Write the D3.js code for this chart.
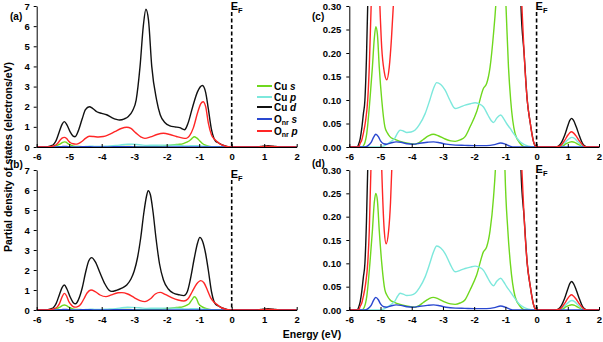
<!DOCTYPE html>
<html>
<head>
<meta charset="utf-8">
<script src="https://d3js.org/d3.v7.min.js"></script>
<style>
  body { margin: 0; background: #fff; }
  svg text { font-family: "Liberation Sans Narrow", "Arial Narrow", "Liberation Sans", Arial, sans-serif; font-weight: bold; }
</style>
</head>
<body>
<svg id="chart"></svg>
<script>
var W = 603, H = 342;

// energy axis ticks (eV)
var xTicks = [-6, -5, -4, -3, -2, -1, 0, 1, 2];
var yTicksFull = [0, 1, 2, 3, 4, 5, 6, 7];
var yTicksZoom = [0, 0.05, 0.10, 0.15, 0.20, 0.25, 0.30];

var seriesNames = ["Cu s", "Cu p", "Cu d", "Onr s", "Onr p"];
var seriesColors = ["#6fd81e", "#7de8dc", "#111111", "#2a48d0", "#ff2626"];

// [energy, PDOS]

// Cu p (same in both structures)
var cuP = [[-6,0],[-5.0,0],[-4.9,0.002],[-4.75,0.008],[-4.62,0.014],[-4.54,0.019],[-4.45,0.03],[-4.37,0.036],
  [-4.27,0.034],[-4.16,0.031],[-4.02,0.032],[-3.89,0.036],[-3.75,0.048],[-3.57,0.071],[-3.42,0.1],[-3.3,0.125],
  [-3.2,0.137],[-3.07,0.133],[-2.93,0.121],[-2.78,0.1],[-2.61,0.082],[-2.45,0.085],[-2.29,0.089],[-2.12,0.092],
  [-1.97,0.094],[-1.85,0.092],[-1.7,0.085],[-1.55,0.067],[-1.45,0.056],[-1.38,0.052],[-1.27,0.062],[-1.15,0.068],
  [-1.05,0.06],[-0.96,0.05],[-0.85,0.04],[-0.74,0.029],[-0.63,0.019],[-0.53,0.011],[-0.42,0.006],[-0.31,0.003],
  [-0.2,0.001],[-0.1,0],[0.6,0],[0.75,0.002],[0.85,0.006],[0.95,0.012],[1.05,0.018],[1.13,0.0205],[1.22,0.018],
  [1.32,0.011],[1.42,0.005],[1.52,0.001],[1.6,0],[2,0]];

// O_nr s (same in both structures)
var onrS = [[-6,0],[-5.5,0],[-5.4,0.003],[-5.3,0.01],[-5.22,0.021],[-5.15,0.027],[-5.07,0.022],[-5.0,0.013],
  [-4.9,0.007],[-4.8,0.006],[-4.65,0.009],[-4.5,0.011],[-4.35,0.01],[-4.15,0.007],[-3.95,0.006],[-3.75,0.008],
  [-3.5,0.01],[-3.3,0.011],[-3.1,0.009],[-2.9,0.006],[-2.6,0.004],[-2.3,0.0035],[-2.0,0.003],[-1.6,0.003],
  [-1.35,0.005],[-1.15,0.0085],[-1.0,0.006],[-0.86,0.002],[-0.7,0],[2,0]];

// Cu s
var cuS_a = [[-6,0],[-5.6,0],[-5.52,0.006],[-5.44,0.029],[-5.34,0.1],[-5.26,0.17],[-5.2,0.23],[-5.15,0.256],
  [-5.1,0.24],[-5.04,0.17],[-4.96,0.1],[-4.86,0.043],[-4.78,0.03],[-4.7,0.022],[-4.54,0.016],[-4.37,0.012],
  [-4.21,0.009],[-3.89,0.006],[-3.75,0.01],[-3.63,0.016],[-3.45,0.024],[-3.31,0.027],[-3.15,0.024],[-2.93,0.017],
  [-2.75,0.013],[-2.61,0.012],[-2.45,0.015],[-2.29,0.022],[-2.13,0.043],[-1.92,0.075],[-1.7,0.125],[-1.6,0.135],
  [-1.49,0.17],[-1.38,0.241],[-1.3,0.31],[-1.22,0.43],[-1.15,0.51],[-1.08,0.45],[-0.98,0.3],[-0.9,0.17],
  [-0.83,0.1],[-0.69,0.029],[-0.53,0.008],[-0.37,0],[0.6,0],[0.75,0.001],[0.85,0.003],[0.95,0.007],[1.05,0.01],
  [1.13,0.0113],[1.22,0.01],[1.32,0.006],[1.42,0.003],[1.52,0.001],[1.6,0],[2,0]];
var cuS_b = [[-6,0],[-5.6,0],[-5.52,0.006],[-5.44,0.029],[-5.34,0.1],[-5.26,0.17],[-5.2,0.23],[-5.15,0.25],
  [-5.1,0.235],[-5.04,0.17],[-4.96,0.1],[-4.86,0.043],[-4.78,0.03],[-4.7,0.022],[-4.54,0.016],[-4.37,0.012],
  [-4.21,0.009],[-3.89,0.006],[-3.75,0.01],[-3.63,0.016],[-3.45,0.024],[-3.31,0.027],[-3.15,0.024],[-2.93,0.017],
  [-2.75,0.013],[-2.61,0.012],[-2.45,0.015],[-2.29,0.022],[-2.13,0.043],[-1.92,0.075],[-1.7,0.125],[-1.6,0.135],
  [-1.49,0.17],[-1.38,0.241],[-1.3,0.33],[-1.22,0.52],[-1.15,0.66],[-1.08,0.56],[-1.02,0.32],[-0.92,0.17],
  [-0.84,0.1],[-0.69,0.029],[-0.53,0.008],[-0.37,0],[0.6,0],[0.75,0.001],[0.85,0.003],[0.95,0.007],[1.05,0.01],
  [1.13,0.0113],[1.22,0.01],[1.32,0.006],[1.42,0.003],[1.52,0.001],[1.6,0],[2,0]];

// Cu d
var cuD_a = [[-6,0],[-5.75,0],[-5.7,0.006],[-5.65,0.018],[-5.6,0.04],[-5.55,0.07],[-5.5,0.1],[-5.45,0.19],
  [-5.4,0.33],[-5.3,0.78],[-5.22,1.12],[-5.15,1.26],[-5.07,1.1],[-4.97,0.75],[-4.88,0.54],[-4.82,0.51],
  [-4.72,0.8],[-4.6,1.4],[-4.5,1.85],[-4.38,2.0],[-4.28,1.92],[-4.15,1.75],[-4.0,1.67],[-3.85,1.6],[-3.7,1.47],
  [-3.55,1.37],[-3.45,1.34],[-3.3,1.4],[-3.18,1.52],[-3.05,1.8],[-2.94,2.33],[-2.82,4.0],[-2.72,6.0],[-2.64,6.84],
  [-2.56,6.3],[-2.46,4.0],[-2.31,2.33],[-2.2,1.6],[-2.05,1.2],[-1.9,1.05],[-1.75,1.0],[-1.6,0.96],[-1.45,0.86],
  [-1.35,1.15],[-1.2,2.0],[-1.05,2.75],[-0.9,3.05],[-0.8,2.7],[-0.72,1.9],[-0.62,0.85],[-0.55,0.45],[-0.5,0.3],
  [-0.4,0.2],[-0.3,0.1],[-0.2,0.05],[-0.15,0.029],[-0.1,0.012],[-0.05,0.003],[0,0],[0.6,0],[0.7,0.002],[0.8,0.01],
  [0.9,0.025],[1.0,0.045],[1.06,0.056],[1.12,0.061],[1.18,0.057],[1.27,0.043],[1.37,0.024],[1.47,0.008],
  [1.55,0.002],[1.62,0],[2,0]];
var cuD_b = [[-6,0],[-5.75,0],[-5.7,0.006],[-5.65,0.018],[-5.6,0.04],[-5.55,0.07],[-5.5,0.1],[-5.45,0.19],
  [-5.4,0.33],[-5.3,0.78],[-5.22,1.12],[-5.15,1.25],[-5.07,1.05],[-4.97,0.65],[-4.88,0.38],[-4.8,0.31],
  [-4.72,0.5],[-4.6,1.1],[-4.5,1.85],[-4.4,2.45],[-4.31,2.62],[-4.2,2.42],[-4.05,1.85],[-3.9,1.3],[-3.78,1.0],
  [-3.69,0.93],[-3.55,0.98],[-3.4,1.08],[-3.23,1.25],[-3.1,1.55],[-3.0,1.95],[-2.9,2.6],[-2.8,3.6],[-2.7,4.9],
  [-2.62,5.7],[-2.57,5.97],[-2.5,5.75],[-2.42,4.9],[-2.33,3.6],[-2.22,2.3],[-2.1,1.5],[-1.95,1.05],[-1.8,0.85],
  [-1.62,0.76],[-1.47,0.72],[-1.37,0.9],[-1.27,1.55],[-1.15,2.6],[-1.05,3.35],[-0.98,3.63],[-0.9,3.45],
  [-0.8,2.8],[-0.72,2.0],[-0.62,0.9],[-0.55,0.45],[-0.5,0.3],[-0.4,0.2],[-0.3,0.1],[-0.2,0.05],[-0.15,0.029],
  [-0.1,0.012],[-0.05,0.003],[0,0],[0.6,0],[0.7,0.002],[0.8,0.01],[0.9,0.025],[1.0,0.045],[1.06,0.056],
  [1.12,0.061],[1.18,0.057],[1.27,0.043],[1.37,0.024],[1.47,0.008],[1.55,0.002],[1.62,0],[2,0]];

// O_nr p
var onrP_a = [[-6,0],[-5.7,0],[-5.65,0.008],[-5.6,0.015],[-5.55,0.029],[-5.48,0.055],[-5.41,0.1],[-5.36,0.17],
  [-5.3,0.3],[-5.22,0.44],[-5.15,0.48],[-5.08,0.42],[-5.02,0.3],[-4.96,0.21],[-4.88,0.16],[-4.8,0.143],
  [-4.72,0.17],[-4.65,0.23],[-4.59,0.3],[-4.5,0.43],[-4.38,0.53],[-4.25,0.52],[-4.1,0.5],[-3.95,0.52],[-3.8,0.6],
  [-3.6,0.76],[-3.4,0.92],[-3.23,0.98],[-3.1,0.92],[-2.95,0.7],[-2.8,0.5],[-2.67,0.43],[-2.5,0.5],[-2.3,0.62],
  [-2.1,0.68],[-1.9,0.62],[-1.7,0.52],[-1.5,0.44],[-1.4,0.43],[-1.3,0.55],[-1.18,0.95],[-1.05,1.7],[-0.95,2.15],
  [-0.88,2.25],[-0.8,2.0],[-0.72,1.2],[-0.62,0.6],[-0.55,0.42],[-0.47,0.3],[-0.4,0.2],[-0.3,0.1],[-0.2,0.05],
  [-0.15,0.028],[-0.1,0.012],[-0.05,0.003],[0,0],[0.6,0],[0.7,0.001],[0.8,0.005],[0.9,0.014],[1.0,0.025],
  [1.06,0.03],[1.12,0.0326],[1.18,0.03],[1.27,0.023],[1.37,0.013],[1.47,0.005],[1.55,0.001],[1.62,0],[2,0]];
var onrP_b = [[-6,0],[-5.7,0],[-5.65,0.008],[-5.6,0.015],[-5.55,0.029],[-5.48,0.055],[-5.41,0.1],[-5.36,0.17],
  [-5.3,0.32],[-5.22,0.65],[-5.15,0.83],[-5.08,0.7],[-5.02,0.45],[-4.96,0.3],[-4.88,0.17],[-4.82,0.142],
  [-4.74,0.17],[-4.68,0.23],[-4.64,0.3],[-4.55,0.55],[-4.45,0.85],[-4.33,1.0],[-4.2,0.92],[-4.05,0.75],
  [-3.87,0.67],[-3.7,0.76],[-3.5,0.86],[-3.38,0.87],[-3.2,0.8],[-3.0,0.62],[-2.82,0.47],[-2.67,0.42],[-2.5,0.56],
  [-2.35,0.8],[-2.2,0.88],[-2.05,0.78],[-1.85,0.62],[-1.65,0.5],[-1.47,0.45],[-1.35,0.55],[-1.22,0.9],
  [-1.08,1.3],[-0.95,1.47],[-0.85,1.35],[-0.75,1.0],[-0.65,0.62],[-0.55,0.4],[-0.47,0.3],[-0.4,0.2],[-0.3,0.1],
  [-0.2,0.05],[-0.15,0.028],[-0.1,0.012],[-0.05,0.003],[0,0],[0.6,0],[0.7,0.001],[0.8,0.005],[0.9,0.014],
  [1.0,0.025],[1.06,0.03],[1.12,0.0326],[1.18,0.03],[1.27,0.023],[1.37,0.013],[1.47,0.005],[1.55,0.001],[1.62,0],[2,0]];

var svg = d3.select("#chart").attr("width", W).attr("height", H);

var panels = [
  { id: "a", x0: 36.7, x1: 296.7, top: 6, bottom: 147, ymax: 7, yTicks: yTicksFull, fmt: function(d){ return String(d); },
    pad: 4, series: [cuS_a, cuP, cuD_a, onrS, onrP_a], efY: 10, label: [10, 20] },
  { id: "b", x0: 36.7, x1: 296.7, top: 170, bottom: 310, ymax: 7, yTicks: yTicksFull, fmt: function(d){ return String(d); },
    pad: 4, series: [cuS_b, cuP, cuD_b, onrS, onrP_b], efY: 178, label: [10, 168] },
  { id: "c", x0: 349.3, x1: 599, top: 6, bottom: 147, ymax: 0.3, yTicks: yTicksZoom, fmt: d3.format(".2f"),
    pad: 5, series: [cuS_a, cuP, cuD_a, onrS, onrP_a], efY: 10, label: [312, 20] },
  { id: "d", x0: 349.3, x1: 599, top: 170, bottom: 310, ymax: 0.3, yTicks: yTicksZoom, fmt: d3.format(".2f"),
    pad: 5, series: [cuS_b, cuP, cuD_b, onrS, onrP_b], efY: 173, label: [312, 167] }
];

panels.forEach(function(p) {
  var x = d3.scaleLinear().domain([-6, 2]).range([p.x0, p.x1]);
  var y = d3.scaleLinear().domain([0, p.ymax]).range([p.bottom, p.top]);
  var g = svg.append("g").attr("class", "panel-" + p.id);

  g.append("clipPath").attr("id", "clip-" + p.id)
    .append("rect").attr("x", p.x0).attr("y", p.top)
    .attr("width", p.x1 - p.x0).attr("height", p.bottom - p.top + 2);

  var line = d3.line()
    .x(function(d){ return x(d[0]); })
    .y(function(d){ return y(d[1]); })
    .curve(d3.curveMonotoneX);

  g.append("g").attr("clip-path", "url(#clip-" + p.id + ")")
    .selectAll("path").data(p.series).enter()
    .append("path")
      .attr("d", line)
      .attr("fill", "none")
      .attr("stroke", function(d, i){ return seriesColors[i]; })
      .attr("stroke-width", 1.4)
      .attr("stroke-linejoin", "round");

  var xa = g.append("g").attr("transform", "translate(0," + p.bottom + ")")
    .call(d3.axisBottom(x).tickValues(xTicks).tickSize(-3).tickSizeOuter(0).tickPadding(6)
      .tickFormat(function(d){ return String(d); }));
  var ya = g.append("g").attr("transform", "translate(" + p.x0 + ",0)")
    .call(d3.axisLeft(y).tickValues(p.yTicks).tickSize(3).tickSizeOuter(0).tickPadding(p.pad).tickFormat(p.fmt));
  [xa, ya].forEach(function(a) {
    a.attr("font-size", 9.5);
    a.selectAll("path, line").attr("stroke", "#000");
    a.selectAll("text").attr("fill", "#000");
  });

  // Fermi level
  g.append("line")
    .attr("x1", x(0)).attr("x2", x(0))
    .attr("y1", p.efY + 2).attr("y2", p.bottom)
    .attr("stroke", "#000").attr("stroke-width", 1.6)
    .attr("stroke-dasharray", "4,2.5");
  var ef = g.append("text").attr("x", x(0) - 1).attr("y", p.efY).attr("font-size", 11);
  ef.append("tspan").text("E");
  ef.append("tspan").attr("dy", 2.5).attr("font-size", 7.5).text("F");

  g.append("text").attr("x", p.label[0]).attr("y", p.label[1]).attr("font-size", 10).text("(" + p.id + ")");
});

// legend (inside panel a)
var legY = [86, 97, 107, 119, 131];
var leg = svg.append("g");
seriesNames.forEach(function(name, i) {
  leg.append("line").attr("x1", 257).attr("x2", 272).attr("y1", legY[i]).attr("y2", legY[i])
    .attr("stroke", seriesColors[i]).attr("stroke-width", 2);
  var t = leg.append("text").attr("x", 274).attr("y", legY[i] + 3.5).attr("font-size", 10);
  var parts = name.split(" ");
  if (parts[0] === "Onr") {
    t.append("tspan").text("O");
    t.append("tspan").attr("dy", 2.5).attr("font-size", 7).text("nr");
    t.append("tspan").attr("dy", -2.5).text(" ");
  } else {
    t.append("tspan").text(parts[0] + " ");
  }
  t.append("tspan").attr("font-style", "italic").text(parts[1]);
});

// axis titles
svg.append("text").attr("transform", "translate(11.5,157) rotate(-90)")
  .attr("text-anchor", "middle").attr("font-size", 10.5)
  .text("Partial density of states (electrons/eV)");
svg.append("text").attr("x", 312).attr("y", 338)
  .attr("text-anchor", "middle").attr("font-size", 10.5)
  .text("Energy (eV)");
</script>
</body>
</html>
